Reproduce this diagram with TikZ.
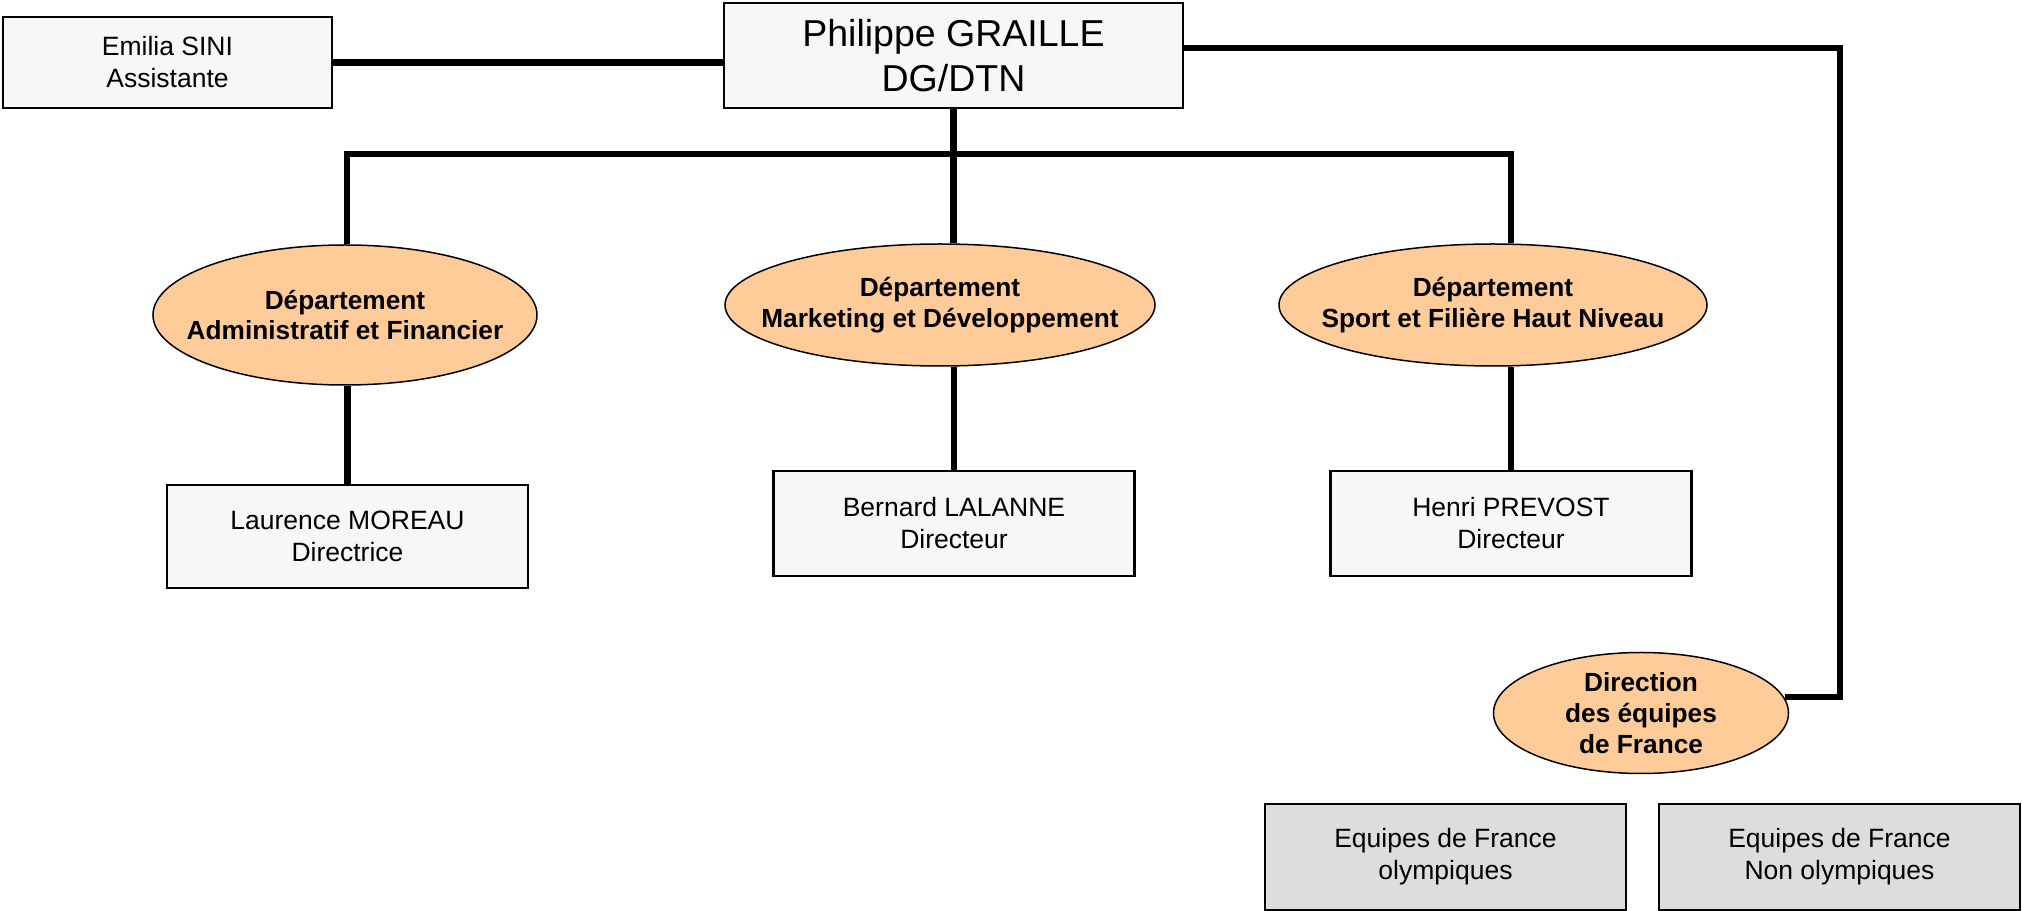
\documentclass[tikz,border=0pt]{standalone}
\usepackage{fontspec}
\setmainfont{Liberation Sans}
\usetikzlibrary{shapes.geometric}
\definecolor{boxfill}{HTML}{F7F7F7}
\definecolor{deptfill}{HTML}{FFCC99}
\definecolor{teamfill}{HTML}{DDDDDD}
\begin{document}
\begin{tikzpicture}[x=0.4pt,y=-0.4pt]
\tikzstyle{every node}+=[inner sep=0pt]
\tikzstyle{person}=[draw=black,line width=0.85pt,fill=boxfill,minimum width=144.4pt,minimum height=41.6pt,align=center,font=\fontsize{10.6}{12.8}\selectfont]
\tikzstyle{team}=[person,fill=teamfill,minimum height=42.4pt]
\tikzstyle{dept}=[ellipse,draw=black,line width=0.6pt,fill=deptfill]
\tikzstyle{depttext}=[align=center,font=\fontsize{10.5}{12.3}\selectfont\bfseries]
\tikzstyle{link}=[line width=2.6pt]
\useasboundingbox (0,0) rectangle (2022,911);
\node [person,minimum width=131.6pt,minimum height=36.4pt] (assist) at (167.5,62.5) {Emilia SINI\\Assistante};
\node [person,minimum width=183.6pt,minimum height=42pt,font=\fontsize{15}{18}\selectfont] (dg) at (953.5,55.5) {Philippe GRAILLE\\DG/DTN};
\node [dept,minimum width=153.6pt,minimum height=56pt,label={[depttext]center:Département\\Administratif et Financier}] (daf) at (345,315) {};
\node [dept,minimum width=172pt,minimum height=48.8pt,label={[depttext]center:Département\\Marketing et Développement}] (dmd) at (940,305) {};
\node [dept,minimum width=171.2pt,minimum height=48.8pt,label={[depttext]center:Département\\Sport et Filière Haut Niveau}] (dsp) at (1493,305) {};
\node [dept,minimum width=118pt,minimum height=48.4pt,label={[depttext]center:Direction\\des équipes\\de France}] (dfe) at (1641,713) {};
\node [person,minimum height=41.2pt] (moreau) at (347.5,536.5) {Laurence MOREAU\\Directrice};
\node [person,minimum height=42pt] (lalanne) at (954,523.5) {Bernard LALANNE\\Directeur};
\node [person,minimum height=42pt] (prevost) at (1511,523.5) {Henri PREVOST\\Directeur};
\node [team] (olymp) at (1445.5,857) {Equipes de France\\olympiques};
\node [team] (nonolymp) at (1839.5,857) {Equipes de France\\Non olympiques};
\coordinate (busl) at (347,154);
\coordinate (busr) at (1511,154);
\coordinate (ne) at (1840,48);
\coordinate (se) at (1840,697);
\draw [link] (assist.east) -- (assist.east -| dg.west);
\draw [link] (dg.east |- ne) -- (ne) -- (se) -- (se -| dfe.6);
\draw [link] (dg.south) -- (dg.south |- dmd.north);
\draw [link] (busl |- daf.north) -- (busl) -- (busr) -- (busr |- dsp.north);
\draw [link] (moreau.north |- daf.south) -- (moreau.north);
\draw [link] (lalanne.north |- dmd.south) -- (lalanne.north);
\draw [link] (prevost.north |- dsp.south) -- (prevost.north);
\end{tikzpicture}
\end{document}
